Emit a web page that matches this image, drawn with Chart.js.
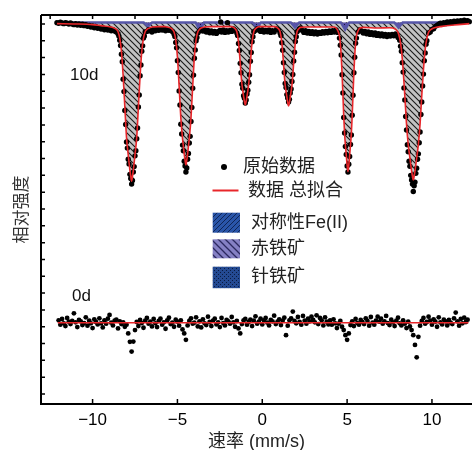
<!DOCTYPE html>
<html>
<head>
<meta charset="utf-8">
<script src="https://cdn.jsdelivr.net/npm/chart.js@4.4.1/dist/chart.umd.min.js"></script>
<style>html,body{margin:0;padding:0;background:#fff;}canvas{display:block;}</style>
</head>
<body>
<canvas id="c" width="472" height="450"></canvas>
<script>
// ---------- DATA ----------
// 10d spectrum: measured points [velocity (mm/s), relative intensity]
const points10d = [
[-12.1,110.4],[-12.0,110.2],[-11.9,110.5],[-11.8,110.3],[-11.7,110.1],[-11.6,110.4],[-11.5,110.2],[-11.4,110.0],[-11.3,110.3],[-11.2,110.0],
[-11.1,109.8],[-11.0,110.1],[-10.9,109.7],[-10.8,110.0],[-10.7,109.6],[-10.6,109.9],[-10.5,109.5],[-10.4,109.8],[-10.3,109.3],[-10.2,109.6],
[-10.1,109.1],[-10.0,109.4],[-9.9,108.9],[-9.8,109.2],[-9.7,108.7],[-9.6,109.0],[-9.5,108.5],[-9.4,108.8],[-9.3,108.3],[-9.2,108.6],
[-9.1,108.2],[-9.0,108.5],[-8.9,108.0],[-8.8,108.3],
[-8.7,107.9],[-8.6,107.6],[-8.5,107.1],[-8.45,106.4],[-8.4,105.2],[-8.35,103.6],[-8.3,101.0],[-8.25,98.8],[-8.2,93.6],[-8.15,89.9],
[-8.1,84.3],[-8.05,80.1],[-8.0,74.9],[-7.95,73.1],[-7.9,69.8],[-7.85,68.4],[-7.8,65.3],[-7.75,64.1],[-7.7,62.4],[-7.65,63.5],
[-7.6,66.0],[-7.55,67.6],[-7.5,70.8],[-7.45,72.3],[-7.4,75.9],[-7.35,79.1],[-7.3,85.3],[-7.25,88.9],[-7.2,94.6],[-7.15,97.8],
[-7.1,101.9],[-7.05,103.5],[-7.0,105.8],[-6.95,106.4],[-6.9,107.6],[-6.8,107.8],[-6.7,108.3],
[-6.6,108.0],[-6.5,107.6],[-6.4,108.4],[-6.3,108.0],[-6.2,108.5],[-6.1,108.1],[-6.0,108.6],[-5.9,108.2],[-5.8,108.5],[-5.7,108.0],[-5.6,108.4],[-5.5,108.1],
[-5.4,108.2],[-5.3,107.8],[-5.2,107.0],[-5.15,106.3],[-5.1,104.5],[-5.05,102.9],[-5.0,99.1],[-4.95,95.6],[-4.9,90.1],[-4.85,85.9],
[-4.8,80.2],[-4.75,77.3],[-4.7,74.0],[-4.65,72.3],[-4.6,69.2],[-4.55,67.8],[-4.5,66.0],[-4.45,67.2],[-4.4,69.8],[-4.35,71.5],
[-4.3,74.6],[-4.25,76.6],[-4.2,81.0],[-4.15,85.2],[-4.1,90.9],[-4.05,94.8],[-4.0,99.8],[-3.95,102.3],[-3.9,105.0],[-3.85,106.0],
[-3.8,107.3],[-3.7,107.9],[-3.6,108.4],
[-3.5,107.9],[-3.4,108.3],[-3.3,107.6],[-3.2,108.1],[-3.1,107.4],[-3.0,107.9],[-2.9,107.3],[-2.8,107.8],[-2.7,107.2],[-2.6,107.7],
[-2.5,108.1],[-2.45,110.6],[-2.4,107.6],[-2.3,108.2],[-2.2,107.5],[-2.1,108.0],[-2.05,110.4],[-2.0,107.6],[-1.9,108.1],[-1.8,107.8],
[-1.7,108.5],[-1.6,108.1],[-1.5,107.3],[-1.45,106.6],[-1.4,104.2],[-1.35,102.1],[-1.3,98.3],[-1.25,95.5],[-1.2,92.1],[-1.15,90.9],
[-1.1,88.7],[-1.05,87.9],[-1.0,86.5],[-0.95,87.4],[-0.9,89.2],[-0.85,90.3],[-0.8,92.7],[-0.75,94.9],[-0.7,98.9],[-0.65,101.5],
[-0.6,104.7],[-0.55,106.2],[-0.5,107.7],[-0.4,108.1],[-0.3,108.6],
[-0.2,108.2],[-0.1,107.8],[0.0,108.3],[0.1,107.6],[0.2,108.1],[0.3,107.7],[0.4,108.2],[0.5,107.5],[0.6,108.0],[0.7,107.6],
[0.85,108.5],[0.95,108.2],[1.05,107.3],[1.1,106.6],[1.15,104.4],[1.2,102.2],[1.25,98.5],[1.3,95.6],[1.35,92.3],[1.4,91.1],
[1.45,89.0],[1.5,88.0],[1.55,86.8],[1.6,87.6],[1.65,89.5],[1.7,90.7],[1.75,92.9],[1.8,95.0],[1.85,99.0],[1.9,101.6],
[1.95,104.8],[2.0,106.2],[2.05,107.7],[2.15,108.2],[2.25,108.8],
[2.35,108.1],[2.45,107.5],[2.55,108.0],[2.65,107.3],[2.75,107.8],[2.85,107.2],[2.95,107.7],[3.05,107.1],[3.15,107.6],[3.25,107.0],
[3.35,107.5],[3.45,107.2],[3.55,107.7],[3.65,107.3],[3.75,107.8],[3.85,107.4],[3.95,107.9],[4.05,107.5],[4.15,108.0],[4.25,107.6],
[4.35,108.2],[4.45,107.5],[4.55,105.8],[4.6,103.7],[4.65,100.8],[4.7,94.9],[4.75,89.5],[4.8,82.2],[4.85,77.6],[4.9,73.6],
[4.95,71.2],[5.0,67.8],[5.05,66.0],[5.1,68.3],[5.15,70.6],[5.2,74.2],[5.25,77.0],[5.3,82.9],[5.35,88.8],[5.4,95.5],
[5.45,100.1],[5.5,104.3],[5.55,105.8],[5.65,107.6],[5.75,108.3],
[5.85,107.9],[5.95,107.3],[6.05,107.8],[6.15,107.1],[6.25,107.6],[6.35,106.9],[6.45,107.4],[6.55,106.8],[6.65,107.3],[6.75,106.6],
[6.85,107.1],[6.95,106.5],[7.05,107.0],[7.15,106.4],[7.25,106.9],[7.35,106.3],[7.45,106.8],[7.55,106.4],[7.65,106.9],[7.75,106.5],
[7.85,107.0],[7.95,106.6],[8.0,106.0],[8.1,105.2],[8.15,103.4],[8.2,101.9],[8.25,98.5],[8.3,95.7],[8.35,91.0],[8.4,87.4],
[8.45,82.5],[8.5,78.5],[8.55,74.1],[8.6,72.0],[8.65,69.2],[8.7,67.7],[8.75,65.0],[8.8,63.6],[8.85,62.4],[8.9,60.2],
[8.95,61.9],[9.0,63.0],[9.05,65.6],[9.1,67.1],[9.15,69.8],[9.2,71.4],[9.25,74.7],[9.3,77.9],[9.35,83.1],[9.4,86.8],
[9.45,91.6],[9.5,95.1],[9.55,99.1],[9.6,101.4],[9.65,104.0],[9.7,105.0],[9.8,107.3],[9.9,107.6],[10.0,108.4],[10.1,108.6],
[10.2,109.3],[10.3,109.6],[10.4,109.9],[10.5,110.2],[10.6,109.9],[10.7,110.4],[10.8,110.1],[10.9,110.6],[11.0,110.3],[11.1,110.7],
[11.2,110.4],[11.3,110.8],[11.4,110.5],[11.5,110.9],[11.6,110.6],[11.7,111.0],[11.8,110.7],[11.9,111.1],[12.0,110.8],[12.1,111.0],[12.2,110.7]
];

// 10d total fit (also outlines the main sextet area)
const fit10d = [
[-12.1,110.1],[-11.0,110.0],[-10.0,109.8],[-9.5,109.5],[-9.0,109.2],[-8.9,109.1],[-8.7,108.7],[-8.6,108.4],[-8.5,107.7],[-8.4,105.8],
[-8.3,101.9],[-8.2,94.6],[-8.1,85.4],[-8.0,76.2],[-7.9,71.1],[-7.85,68.8],[-7.8,66.5],[-7.75,64.7],[-7.7,63.3],[-7.65,64.7],
[-7.6,66.5],[-7.55,68.8],[-7.5,71.1],[-7.4,76.2],[-7.3,85.4],[-7.2,94.6],[-7.1,101.9],[-7.0,105.8],[-6.9,107.7],[-6.8,108.4],
[-6.7,108.7],[-6.5,109.1],[-6.1,109.2],[-5.7,109.2],
[-5.6,109.1],[-5.4,108.8],[-5.3,108.4],[-5.2,107.6],[-5.1,105.3],[-5.0,100.2],[-4.9,91.5],[-4.8,82.1],[-4.7,76.0],[-4.65,73.7],
[-4.6,71.4],[-4.55,69.5],[-4.5,68.1],[-4.45,69.5],[-4.4,71.4],[-4.35,73.7],[-4.3,76.0],[-4.2,82.1],[-4.1,91.5],[-4.0,100.2],
[-3.9,105.3],[-3.8,107.6],[-3.7,108.4],[-3.6,108.8],[-3.4,109.1],[-3.0,109.2],[-2.2,109.2],
[-1.8,109.2],[-1.7,109.0],[-1.6,108.6],[-1.5,107.7],[-1.4,104.6],[-1.35,101.8],[-1.3,98.5],[-1.25,94.9],[-1.2,92.1],[-1.15,90.2],
[-1.1,88.5],[-1.05,87.0],[-1.0,85.9],[-0.95,87.0],[-0.9,88.5],[-0.85,90.2],[-0.8,92.1],[-0.75,94.9],[-0.7,98.5],[-0.65,101.8],
[-0.6,104.6],[-0.5,107.7],[-0.4,108.6],[-0.3,109.0],[-0.2,109.2],[0.3,109.2],[0.75,109.2],
[0.85,109.0],[0.95,108.6],[1.05,107.7],[1.15,104.6],[1.2,101.7],[1.25,98.4],[1.3,94.7],[1.35,91.8],[1.4,90.0],[1.45,88.3],
[1.5,86.7],[1.55,85.6],[1.6,86.7],[1.65,88.3],[1.7,90.0],[1.75,91.8],[1.8,94.7],[1.85,98.4],[1.9,101.7],[1.95,104.6],
[2.05,107.7],[2.15,108.6],[2.25,109.0],[2.6,109.1],[3.5,109.1],[4.2,109.1],
[4.35,108.8],[4.45,108.0],[4.55,106.4],[4.6,104.2],[4.65,100.7],[4.7,95.5],[4.75,89.3],[4.8,82.7],[4.85,77.5],[4.9,74.0],
[4.95,71.0],[5.0,68.1],[5.05,66.1],[5.1,68.1],[5.15,71.0],[5.2,74.0],[5.25,77.5],[5.3,82.7],[5.35,89.3],[5.4,95.5],
[5.45,100.7],[5.5,104.2],[5.55,106.4],[5.65,108.0],[5.75,108.8],[6.0,109.0],[6.8,108.8],[7.5,108.9],
[7.7,108.8],[7.9,108.2],[8.0,107.5],[8.1,105.7],[8.2,102.4],[8.3,96.5],[8.4,88.7],[8.5,80.3],[8.6,74.2],[8.7,70.2],
[8.75,68.2],[8.8,66.3],[8.85,64.7],[8.9,63.6],[8.95,64.7],[9.0,66.3],[9.05,68.2],[9.1,70.2],[9.2,74.2],[9.3,80.3],
[9.4,88.7],[9.5,96.5],[9.6,102.4],[9.7,105.7],[9.8,107.5],[9.9,108.2],[10.1,108.8],[10.6,109.3],[11.3,109.7],[12.2,110.1]
];

// small sextet (dark purple dips) and its baseline
const baseline10d = 110.45;
const minor10d = [
[-12.05,110.45],[-6.99,110.45],[-6.74,109.25],[-6.49,110.45],[-3.93,110.45],[-3.68,108.05],[-3.43,110.45],
[-0.58,110.45],[-0.33,108.95],[-0.08,110.45],[1.68,110.45],[1.93,108.95],[2.18,110.45],
[4.63,110.45],[4.88,108.35],[5.13,110.45],[7.78,110.45],[8.03,108.95],[8.28,110.45],[12.25,110.45]
];

// 0d spectrum
const vel0d = [
-12.0,-11.9,-11.8,-11.7,-11.6,-11.5,-11.4,-11.3,-11.2,-11.1,
-11.0,-10.9,-10.8,-10.7,-10.6,-10.5,-10.4,-10.3,-10.2,-10.1,
-10.0,-9.9,-9.8,-9.7,-9.6,-9.5,-9.4,-9.3,-9.2,-9.1,
-9.0,-8.9,-8.8,-8.7,-8.6,-8.5,-8.4,-8.3,-8.2,-8.1,
-8.0,-7.9,-7.8,-7.7,-7.6,-7.5,-7.4,-7.3,-7.2,-7.1,
-7.0,-6.9,-6.8,-6.7,-6.6,-6.5,-6.4,-6.3,-6.2,-6.1,
-6.0,-5.9,-5.8,-5.7,-5.6,-5.5,-5.4,-5.3,-5.2,-5.1,
-5.0,-4.9,-4.8,-4.7,-4.6,-4.5,-4.4,-4.3,-4.2,-4.1,
-4.0,-3.9,-3.8,-3.7,-3.6,-3.5,-3.4,-3.3,-3.2,-3.1,
-3.0,-2.9,-2.8,-2.7,-2.6,-2.5,-2.4,-2.3,-2.2,-2.1,
-2.0,-1.9,-1.8,-1.7,-1.6,-1.5,-1.4,-1.3,-1.2,-1.1,
-1.0,-0.9,-0.8,-0.7,-0.6,-0.5,-0.4,-0.3,-0.2,-0.1,
0.0,0.1,0.2,0.3,0.4,0.5,0.6,0.7,0.8,0.9,
1.0,1.1,1.2,1.3,1.4,1.5,1.6,1.7,1.8,1.9,
2.0,2.1,2.2,2.3,2.4,2.5,2.6,2.7,2.8,2.9,
3.0,3.1,3.2,3.3,3.4,3.5,3.6,3.7,3.8,3.9,
4.0,4.1,4.2,4.3,4.4,4.5,4.6,4.7,4.8,4.9,
5.0,5.1,5.2,5.3,5.4,5.5,5.6,5.7,5.8,5.9,
6.0,6.1,6.2,6.3,6.4,6.5,6.6,6.7,6.8,6.9,
7.0,7.1,7.2,7.3,7.4,7.5,7.6,7.7,7.8,7.9,
8.0,8.1,8.2,8.3,8.4,8.5,8.6,8.7,8.8,8.9,
9.0,9.1,9.2,9.3,9.4,9.5,9.6,9.7,9.8,9.9,
10.0,10.1,10.2,10.3,10.4,10.5,10.6,10.7,10.8,10.9,
11.0,11.1,11.2,11.3,11.4,11.5,11.6,11.7,11.8,11.9,
12.0,12.1
];
const int0d = [
21.9,20.6,22.3,21.0,20.2,22.6,21.5,20.8,21.7,24.0,
21.3,19.9,22.0,21.6,20.5,21.1,22.8,20.3,21.8,21.0,
19.6,22.2,21.4,20.7,22.5,21.0,19.8,21.9,20.9,22.4,
23.5,21.2,20.4,21.8,22.1,19.5,21.6,20.8,21.3,20.0,
20.6,18.0,15.5,12.6,15.6,19.0,21.4,20.2,22.0,21.1,
19.7,21.8,22.6,20.9,21.5,20.1,22.3,21.0,19.9,21.7,
22.4,20.6,21.3,19.4,21.9,22.7,20.8,21.2,20.0,22.1,
21.5,20.3,21.9,19.2,18.0,16.1,20.4,21.7,22.5,20.9,
21.2,22.8,20.1,21.6,19.8,22.2,21.0,20.5,23.0,21.4,
20.2,21.8,22.4,20.7,21.3,19.9,22.6,21.1,20.4,22.0,
21.6,20.9,22.9,21.3,20.0,21.7,19.5,18.0,20.8,21.9,
22.3,20.6,21.4,22.1,20.2,21.8,23.1,20.9,21.5,22.4,
20.7,21.9,22.6,21.2,20.4,22.0,21.6,23.3,20.8,21.5,
22.2,20.5,21.8,22.7,17.5,20.3,21.9,22.5,24.5,21.7,
21.0,22.9,21.4,20.6,23.2,21.8,20.9,22.4,21.6,23.0,
22.0,21.3,23.4,20.8,22.6,21.9,20.4,22.8,21.5,20.7,
21.9,20.6,22.2,21.0,19.6,20.9,21.7,20.0,19.0,17.5,
16.1,18.0,20.5,21.6,20.2,22.3,21.1,20.6,22.0,21.4,
20.8,22.5,21.7,20.3,22.9,21.2,20.6,21.8,23.0,21.5,
22.4,20.9,21.6,23.2,21.1,20.5,22.1,21.3,20.2,21.8,
22.7,21.0,20.4,21.9,20.9,19.6,21.5,20.1,19.0,17.5,
14.6,10.9,17.0,20.3,21.7,22.6,20.9,21.4,23.0,21.8,
20.6,22.2,21.5,20.0,22.8,21.3,20.7,22.1,21.6,20.4,
22.0,21.2,20.8,22.5,24.2,21.6,20.3,22.3,21.0,22.7,
21.4,22.1
];
const fitVel0d = [-12.05, 12.15];
const fitInt0d = [21.2, 21.2];

const xTickValues = [-10, -5, 0, 5, 10];
const xTopTickValues = [-12.5, -10, -7.5, -5, -2.5, 0, 2.5, 5, 7.5, 10];
const legendLabels = ['原始数据', '数据 总拟合', '对称性Fe(II)', '赤铁矿', '针铁矿'];
const sampleLabels = ['10d', '0d'];
const xTitle = '速率 (mm/s)';
const yTitle = '相对强度';

// ---------- STYLE ----------
const FONT = '"Liberation Sans", "Noto Sans CJK SC", sans-serif';
Chart.defaults.font.family = FONT;

function makeTile(size, bg, painter) {
  const t = document.createElement('canvas');
  t.width = size; t.height = size;
  const g = t.getContext('2d');
  g.fillStyle = bg; g.fillRect(0, 0, size, size);
  painter(g, size);
  return g.createPattern(t, 'repeat');
}
function backLines(color, w) {
  return (g, s) => { g.strokeStyle = color; g.lineWidth = w; g.beginPath();
    g.moveTo(0, 0); g.lineTo(s, s); g.moveTo(-1, s - 1); g.lineTo(1, s + 1); g.moveTo(s - 1, -1); g.lineTo(s + 1, 1); g.stroke(); };
}
function fwdLines(color, w) {
  return (g, s) => { g.strokeStyle = color; g.lineWidth = w; g.beginPath();
    g.moveTo(0, s); g.lineTo(s, 0); g.moveTo(-1, 1); g.lineTo(1, -1); g.moveTo(s - 1, s + 1); g.lineTo(s + 1, s - 1); g.stroke(); };
}
function dots(color) {
  return (g, s) => { g.fillStyle = color; g.fillRect(0, 0, 1, 1); g.fillRect(s / 2, s / 2, 1, 1); };
}
const grayHatch = makeTile(6, '#c3c3c3', backLines('#1a1a1a', 1.1));
const minorFill = makeTile(4, '#5b50a8', dots('#15123a'));
const legFe2 = makeTile(5, '#2a55a8', fwdLines('#0f2556', 1));
const legHem = makeTile(7, '#8580c4', backLines('#2c2860', 1.3));
const legGoe = makeTile(4, '#244a92', dots('#0a1a40'));

const toPts = arr => arr.map(p => ({x: p[0], y: p[1]}));
const pts0 = vel0d.map((v, i) => ({x: v, y: int0d[i]}));
const fit0 = fitVel0d.map((v, i) => ({x: v, y: fitInt0d[i]}));

const frame = {
  id: 'frame',
  afterDraw(chart) {
    const {ctx, chartArea: a, scales: {x, y}} = chart;
    ctx.save();
    ctx.strokeStyle = '#000'; ctx.lineWidth = 2;
    ctx.beginPath();
    ctx.moveTo(a.left, a.top); ctx.lineTo(a.left, a.bottom); ctx.lineTo(a.right, a.bottom);
    ctx.moveTo(a.left, a.top); ctx.lineTo(a.right, a.top);
    ctx.stroke();
    ctx.lineWidth = 1.5;
    ctx.beginPath();
    x.ticks.forEach(t => { const p = x.getPixelForValue(t.value); ctx.moveTo(p, a.bottom); ctx.lineTo(p, a.bottom - 5); });
    xTopTickValues.forEach(v => { const p = x.getPixelForValue(v); ctx.moveTo(p, a.top); ctx.lineTo(p, a.top + 4); });
    y.ticks.forEach(t => { const p = y.getPixelForValue(t.value); ctx.moveTo(a.left, p); ctx.lineTo(a.left + 4, p); });
    ctx.stroke();
    ctx.restore();
  }
};

const legendAndLabels = {
  id: 'legendAndLabels',
  afterDraw(chart) {
    const ctx = chart.ctx;
    ctx.save();
    ctx.textBaseline = 'middle'; ctx.textAlign = 'left';
    // sample labels
    ctx.fillStyle = '#111';
    ctx.font = '17px ' + FONT;
    ctx.fillText(sampleLabels[0], 70, 75);
    ctx.fillText(sampleLabels[1], 72, 296);
    // legend
    ctx.font = '18px ' + FONT;
    ctx.fillStyle = '#000';
    ctx.beginPath(); ctx.arc(224, 167, 3, 0, Math.PI * 2); ctx.fill();
    ctx.fillStyle = '#222';
    ctx.fillText(legendLabels[0], 243, 167);
    ctx.strokeStyle = '#e8262a'; ctx.lineWidth = 2;
    ctx.beginPath(); ctx.moveTo(212.5, 190.5); ctx.lineTo(238.5, 190.5); ctx.stroke();
    ctx.fillText(legendLabels[1], 248, 191);
    const boxes = [[legFe2, 212.7, 20, 223], [legHem, 239.3, 19, 249], [legGoe, 266.7, 21.5, 277.5]];
    boxes.forEach((b, i) => {
      ctx.fillStyle = b[0]; ctx.fillRect(212.7, b[1], 27.3, b[2]);
      ctx.fillStyle = '#222';
      ctx.fillText(legendLabels[i + 2], 251, b[3]);
    });
    ctx.restore();
  }
};

new Chart(document.getElementById('c'), {
  type: 'line',
  data: {
    datasets: [
      { label: 'fit10d', data: toPts(fit10d), borderColor: '#e8262a', borderWidth: 1.6, pointRadius: 0,
        cubicInterpolationMode: 'monotone', fill: false, order: 0 },
      { label: 'fit0d', data: fit0, borderColor: '#e8262a', borderWidth: 1.6, pointRadius: 0, fill: false, order: 0 },
      { label: 'raw10d', data: toPts(points10d), showLine: false, pointRadius: 2.7, pointBackgroundColor: '#000',
        pointBorderColor: '#000', pointBorderWidth: 0, order: 1 },
      { label: 'raw0d', data: pts0, showLine: false, pointRadius: 2.4, pointBackgroundColor: '#000',
        pointBorderColor: '#000', pointBorderWidth: 0, order: 1 },
      { label: 'minor', data: toPts(minor10d), borderColor: '#5656a8', borderWidth: 2.5, pointRadius: 0, tension: 0,
        fill: {value: baseline10d}, backgroundColor: minorFill, order: 3 },
      { label: 'sextet', data: toPts(fit10d), borderWidth: 0, borderColor: 'rgba(0,0,0,0)', pointRadius: 0,
        cubicInterpolationMode: 'monotone', fill: {value: baseline10d}, backgroundColor: grayHatch, order: 4 }
    ]
  },
  options: {
    responsive: false,
    animation: false,
    devicePixelRatio: 1,
    events: [],
    layout: { autoPadding: false, padding: { top: 15, left: 0, right: 0, bottom: 0 } },
    plugins: { legend: { display: false }, tooltip: { enabled: false } },
    scales: {
      x: {
        type: 'linear', min: -13.04, max: 12.36,
        afterBuildTicks: s => { s.ticks = xTickValues.map(v => ({value: v})); },
        afterFit: s => { s.height = 46; },
        grid: { display: false, drawTicks: false },
        border: { display: false },
        ticks: { color: '#000', font: { size: 17, family: FONT }, padding: 6, maxRotation: 0, autoSkip: false,
          callback: v => v < 0 ? '\u2212' + Math.abs(v) : String(v) },
        title: { display: true, text: xTitle, color: '#222', font: { size: 18, family: FONT }, padding: { top: 0, bottom: -3 } }
      },
      y: {
        type: 'linear', min: -2.97, max: 112.67,
        afterFit: s => { s.width = 41; },
        grid: { display: false, drawTicks: false },
        border: { display: false },
        ticks: { display: false, stepSize: 5, includeBounds: false },
        title: { display: true, text: yTitle, color: '#333', font: { size: 17, family: FONT }, padding: { top: 12, bottom: 0 } }
      }
    }
  },
  plugins: [frame, legendAndLabels]
});
</script>
</body>
</html>
